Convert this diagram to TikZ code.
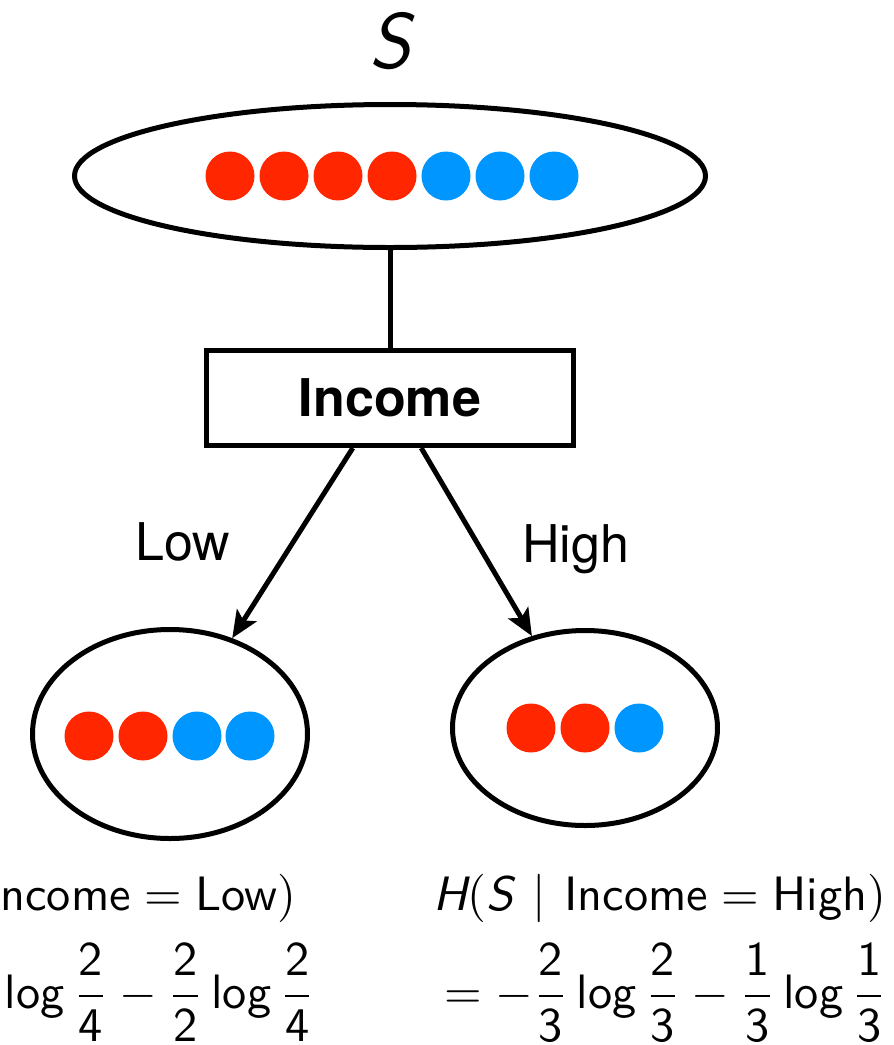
\documentclass[tikz,border=0pt]{standalone}
\usepackage{amsmath}
\usepackage{fontspec}
\newfontfamily\helv{TeX Gyre Heros}
\usetikzlibrary{shapes.geometric,arrows.meta,calc}
\definecolor{dotred}{RGB}{255,38,0}
\definecolor{dotblue}{RGB}{0,150,255}
\newcommand{\slog}{\mathop{\text{log}}\nolimits}
\newcommand{\fr}[2]{\dfrac{\text{#1}}{\text{#2}}}
\newcommand{\given}{\mskip2mu\mid\mskip2mu}
\begin{document}
\begin{tikzpicture}[x=1pt,y=-1pt,
  setnode/.style={draw, line width=5pt, ellipse, inner sep=0pt},
  dotnode/.style={circle, inner sep=0pt, minimum size=49pt},
  rdot/.style={dotnode, fill=dotred},
  bdot/.style={dotnode, fill=dotblue},
  attrnode/.style={draw, line width=5pt, rectangle, minimum width=367pt, minimum height=95pt, inner sep=0pt, font=\helv\bfseries\fontsize{52}{60}\selectfont},
  branch/.style={font=\helv\fontsize{52}{60}\selectfont, inner sep=0pt},
  link/.style={line width=5pt},
  arrowlink/.style={line width=5pt, -{Stealth[length=27pt, width=23pt, inset=6pt]}},
  formula/.style={font=\sffamily, scale=4.83, inner sep=0pt}]
\useasboundingbox (0,0) rectangle (894,1045);
\clip (0,0) rectangle (894,1045);

% title
\node[font=\sffamily\itshape\fontsize{79}{80}\selectfont, inner sep=0pt, anchor=base] (title) at (390,68) {S};

% top set
\node[setnode, minimum width=631pt, minimum height=143pt] (top) at (390,176) {};
\foreach \i/\x in {1/230,2/284,3/338,4/392}
  \node[rdot] (t\i) at (\x,176) {};
\foreach \i/\x in {5/446,6/500,7/554}
  \node[bdot] (t\i) at (\x,176) {};

% attribute box
\node[attrnode] (inc) at (390,398) {Income};
\draw[link] (top.south) -- (inc.north);

% children
\node[setnode, minimum width=275pt, minimum height=209pt] (lo) at (170,734) {};
\node[rdot] (l1) at (89,736) {};
\node[rdot] (l2) at (143,736) {};
\node[bdot] (l3) at (197,736) {};
\node[bdot] (l4) at (250,736) {};

\node[setnode, minimum width=265pt, minimum height=195pt] (hi) at (585,728) {};
\node[rdot] (h1) at (531,728) {};
\node[rdot] (h2) at (585,728) {};
\node[bdot] (h3) at (639,728) {};

\coordinate (ls) at ($(inc.south west)!0.4!(inc.south east)$);
\coordinate (rs) at ($(inc.south west)!0.584!(inc.south east)$);
\draw[arrowlink] (ls) -- (lo.57);
\draw[arrowlink] (rs) -- (hi.120);

\node[branch, anchor=base west] (lowlab) at (135,560) {Low};
\node[branch, anchor=base west] (highlab) at (522,562) {High};

% formulas
\node[formula, anchor=base east] (lf1) at (297,910)
  {$\textit{H}(\textit{S}\given\text{Income}=\text{Low})$};
\node[formula, anchor=base east] (lf2) at (316,1008)
  {$=-\fr{2}{4}\slog\fr{2}{4}-\fr{2}{2}\slog\fr{2}{4}$};
\node[formula, anchor=base east] (rf1) at (887,910)
  {$\textit{H}(\textit{S}\given\text{Income}=\text{High})$};
\node[formula, anchor=base east] (rf2) at (888,1008)
  {$=-\fr{2}{3}\slog\fr{2}{3}-\fr{1}{3}\slog\fr{1}{3}$};
\end{tikzpicture}
\end{document}
